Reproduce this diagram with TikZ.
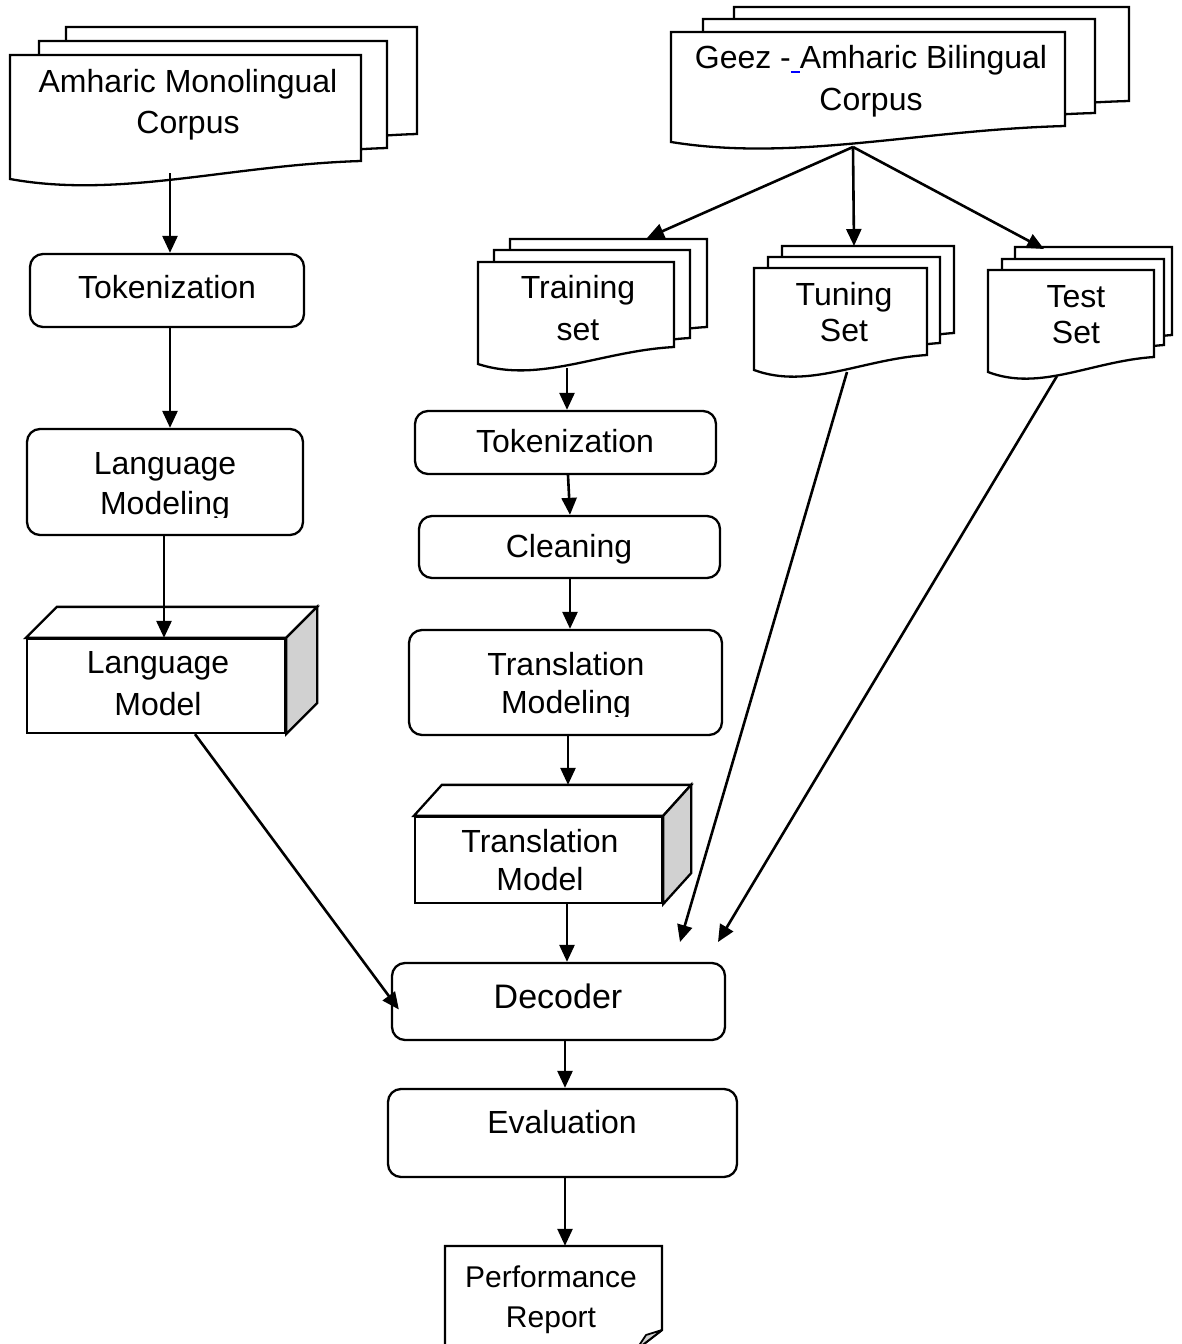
\documentclass[tikz,border=0pt]{standalone}
\usepackage{fontspec}
\setmainfont{Liberation Sans}
\usetikzlibrary{arrows.meta,calc}
\tikzset{
 page/.style={draw=black, line width=2.3pt, fill=white},
 box/.style={draw=black, line width=2.3pt, fill=white, rounded corners=13pt, inner sep=0pt},
 face/.style={draw=black, line width=2.3pt, fill=white, inner sep=0pt},
 sideface/.style={draw=black, line width=2.3pt, fill=black!18},
 arr/.style={line width=2.6pt, -{Triangle[length=17pt,width=15pt]}},
 txt/.style={font=\fontsize{32}{41}\selectfont, align=center, inner sep=0pt, anchor=base},
}
% L T R BR BL
\newcommand\docpage[5]{%
 \draw[page] (#1,#2) -- (#3,#2) -- (#3,#4) .. controls ({#1+0.627*(#3-#1)},{#4+4}) and ({#1+0.313*(#3-#1)},{#5+20}) .. (#1,#5) -- cycle;}
% node name, dx, dy
\newcommand\cubefaces[3]{%
 \draw[page] (#1.north west) -- ++(#2,-#3) -- ($(#1.north east)+(#2,-#3)$) -- (#1.north east) -- cycle;
 \draw[sideface] (#1.north east) -- ++(#2,-#3) -- ($(#1.south east)+(#2,-#3)$) -- (#1.south east) -- cycle;}
\begin{document}
\begin{tikzpicture}[x=1pt,y=-1pt]
\useasboundingbox (0,0) rectangle (1181,1344);
\clip (0,0) rectangle (1181,1344);
\fill[white] (0,0) rectangle (1181,1344);

% Amharic monolingual corpus
\docpage{66}{27}{417}{134}{152}
\docpage{39}{41}{387}{148}{166}
\docpage{10}{55}{361}{161}{179}
\node[txt] (amc) at (188,133) {Amharic Monolingual\\Corpus};
\coordinate (amc-out) at (170,173);

% Geez - Amharic bilingual corpus
\docpage{734}{7}{1129}{101}{117}
\docpage{703}{19}{1095}{113}{129}
\docpage{671}{32}{1065}{126}{142}
\node[txt, font=\fontsize{32}{42}\selectfont] (geez) at (871,110) {Geez -\textcolor{blue}{\rule[-5pt]{9pt}{2pt}}Amharic Bilingual\\Corpus};
\coordinate (geez-out) at (853,147);

% Training set
\docpage{510}{239}{707}{327}{344}
\docpage{494}{250}{690}{338}{355}
\docpage{478}{262}{674}{347}{364}
\node[txt, font=\fontsize{32}{42}\selectfont] (trn) at (578,340) {Training\\set};
\coordinate (trn-in) at (647,238);
\coordinate (trn-out) at (567,368);

% Tuning set
\docpage{782}{246}{954}{333}{348}
\docpage{768}{257}{940}{343}{358}
\docpage{754}{268}{927}{355}{370}
\node[txt, font=\fontsize{32}{36}\selectfont] (tun) at (844,341) {Tuning\\Set};
\coordinate (tun-in) at (854,246);
\coordinate (tun-out) at (847,372);

% Test set
\docpage{1015}{247}{1172}{335}{350}
\docpage{1002}{259}{1164}{345}{360}
\docpage{988}{270}{1154}{357}{372}
\node[txt, font=\fontsize{32}{36}\selectfont] (tst) at (1076,343) {Test\\Set};
\coordinate (tst-in) at (1044,249);
\coordinate (tst-out) at (1057,376);

% Left column
\node[box, minimum width=274pt, minimum height=73pt] (tokA) at (167,290.5) {};
\node[txt] (tokA-t) at (167,298) {Tokenization};

\node[box, minimum width=276pt, minimum height=106pt] (lmod) at (165,482) {};
\begin{scope}
 \clip (27,429) rectangle (303,517);
 \node[txt, font=\fontsize{32}{40}\selectfont] (lmod-t) at (165,514) {Language\\Modeling};
\end{scope}

\node[face, minimum width=258pt, minimum height=94pt] (lmodel) at (156,686) {};
\cubefaces{lmodel}{31}{31}
\node[txt, font=\fontsize{32}{42}\selectfont] (lmodel-t) at (158,715) {Language\\Model};

% Middle column
\node[box, minimum width=301pt, minimum height=63pt] (tokB) at (565.5,442.5) {};
\node[txt] (tokB-t) at (565,452) {Tokenization};

\node[box, minimum width=301pt, minimum height=62pt] (clean) at (569.5,547) {};
\node[txt] (clean-t) at (569,557) {Cleaning};

\node[box, minimum width=313pt, minimum height=105pt] (tmod) at (565.5,682.5) {};
\begin{scope}
 \clip (409,630) rectangle (722,716);
 \node[txt, font=\fontsize{32}{38}\selectfont] (tmod-t) at (566,713) {Translation\\Modeling};
\end{scope}

\node[face, minimum width=247pt, minimum height=86pt] (tmodel) at (538.5,860) {};
\cubefaces{tmodel}{28}{31}
\node[txt, font=\fontsize{32}{38}\selectfont] (tmodel-t) at (540,890) {Translation\\Model};

\node[box, minimum width=333pt, minimum height=77pt] (dec) at (558.5,1001.5) {};
\node[txt, font=\fontsize{34}{41}\selectfont] (dec-t) at (558,1008) {Decoder};

\node[box, minimum width=349pt, minimum height=88pt] (eval) at (562.5,1133) {};
\node[txt] (eval-t) at (562,1133) {Evaluation};

% Performance report
\draw[page] (445,1352) -- (445,1246) -- (662,1246) -- (662,1330) -- (636,1350);
\draw[line width=1.8pt, fill=black!18, line join=round] (662,1330) -- (646,1335) -- (636,1350) -- cycle;
\node[inner sep=0pt, minimum width=217pt, minimum height=100pt] (perf) at (553.5,1296) {};
\node[txt, font=\fontsize{30}{40}\selectfont] (perf-t) at (551,1327) {Performance\\Report};

% Free ends
\coordinate (free1) at (680,942);
\coordinate (free2) at (718,942);

% Connectors
\draw[arr] (amc-out) -- (amc-out |- tokA.north);
\draw[arr] ($(tokA.south)+(3,0)$) -- ($(lmod.north)+(5,0)$);
\draw[arr] ($(lmod.south)+(-1,0)$) -- ($(lmodel.north)+(8,0)$);
\draw[arr] ($(lmodel.south)+(39,0)$) -- ($(dec.west)+(8,8)$);
\draw[arr] (geez-out) -- (trn-in);
\draw[arr] (geez-out) -- (tun-in);
\draw[arr] (geez-out) -- (tst-in);
\draw[arr] (trn-out) -- (trn-out |- tokB.north);
\draw[arr] ($(tokB.south)+(2.5,0)$) -- ($(clean.north)+(0.5,0)$);
\draw[arr] ($(clean.south)+(0.5,0)$) -- ($(tmod.north)+(4.5,0)$);
\draw[arr] ($(tmod.south)+(2.5,0)$) -- ($(tmodel.north)+(29.5,-31)$);
\draw[arr] ($(tmodel.south)+(28.5,0)$) -- ($(dec.north)+(8.5,0)$);
\draw[arr] (tun-out) -- (free1);
\draw[arr] (tst-out) -- (free2);
\draw[arr] ($(dec.south)+(6.5,0)$) -- ($(eval.north)+(2.5,0)$);
\draw[arr] ($(eval.south)+(2.5,0)$) -- ($(perf.north)+(11.5,0)$);
\end{tikzpicture}
\end{document}
